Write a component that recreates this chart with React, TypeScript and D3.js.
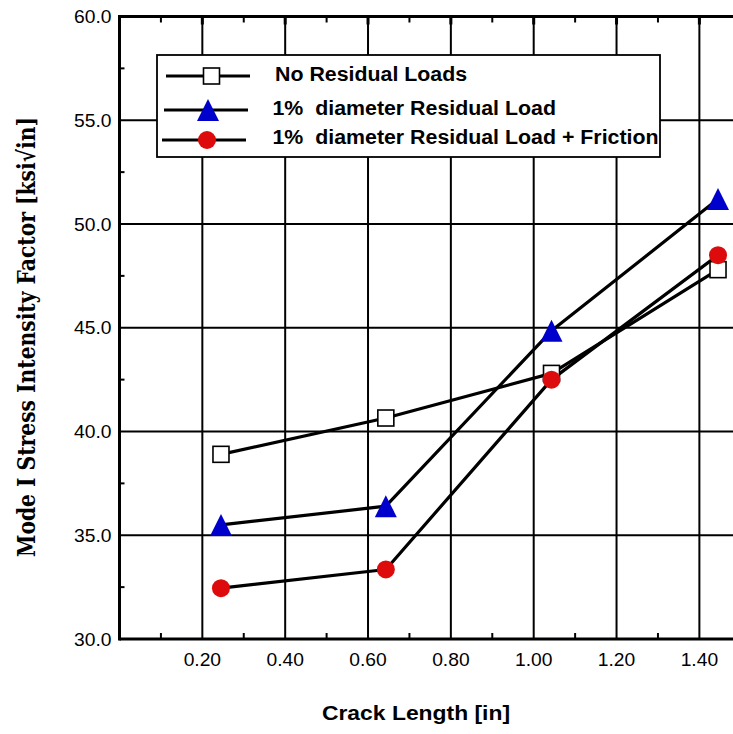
import React from "react";
import * as d3 from "d3";

const crackLength = [0.245, 0.643, 1.043, 1.445];
const noResidual = [38.9, 40.65, 42.8, 47.8];
const residual1 = [35.5, 36.4, 44.85, 51.2];
const residualFriction = [32.45, 33.35, 42.5, 48.5];
const xTickLabels = ["0.20", "0.40", "0.60", "0.80", "1.00", "1.20", "1.40"];
const xTickValues = [0.2, 0.4, 0.6, 0.8, 1.0, 1.2, 1.4];
const yTickValues = [30, 35, 40, 45, 50, 55, 60];
const legendLabels = [
  "No Residual Loads",
  "1%  diameter Residual Load",
  "1%  diameter Residual Load + Friction",
];

const W = 733;
const H = 734;

function SText(props: {
  x: number;
  y: number;
  size: number;
  sx?: number;
  anchor?: string;
  weight?: string | number;
  children: React.ReactNode;
}) {
  const { x, y, size, sx = 1.1, anchor = "start", weight = "normal", children } = props;
  return (
    <text
      transform={`translate(${x},${y}) scale(${sx},1)`}
      fontFamily="Arial, 'Liberation Sans', Helvetica, sans-serif"
      fontSize={size}
      fontWeight={weight}
      textAnchor={anchor}
      fill="#000"
      style={{ whiteSpace: "pre" }}
    >
      {children}
    </text>
  );
}

function Square({ cx, cy, s = 16 }: { cx: number; cy: number; s?: number }) {
  return (
    <rect x={cx - s / 2} y={cy - s / 2} width={s} height={s} fill="#fff" stroke="#000" strokeWidth={1.6} />
  );
}
function Tri({ cx, cy, s = 22 }: { cx: number; cy: number; s?: number }) {
  return (
    <path
      d={`M${cx},${cy - s / 2} L${cx + s / 2},${cy + s / 2} L${cx - s / 2},${cy + s / 2} Z`}
      fill="#0000CC"
    />
  );
}
function Dot({ cx, cy, r = 9 }: { cx: number; cy: number; r?: number }) {
  return <circle cx={cx} cy={cy} r={r} fill="#DD0B0B" />;
}

export default function App() {
  const x = d3.scaleLinear().domain([0, 1.5]).range([119.5, 740.8]);
  const y = d3.scaleLinear().domain([30, 60]).range([639, 16.5]);
  const line = d3
    .line<[number, number]>()
    .x((d) => x(d[0]))
    .y((d) => y(d[1]));

  const series = [noResidual, residual1, residualFriction];
  const x0 = x(0);
  const x1 = W + 5;
  const y0 = y(30);
  const y1 = y(60);

  const minorX = d3.range(1, 15, 2).map((i) => i / 10);
  const minorY = d3.range(32.5, 60, 5);

  return (
    <svg width={W} height={H} style={{ position: "absolute", left: 0, top: 0, background: "#fff" }}>
      <rect x={0} y={0} width={W} height={H} fill="#fff" />
      {/* grid */}
      {xTickValues.map((v) => (
        <line key={"gx" + v} x1={x(v)} x2={x(v)} y1={y1} y2={y0} stroke="#000" strokeWidth={2} />
      ))}
      {yTickValues.slice(1, -1).map((v) => (
        <line key={"gy" + v} x1={x0} x2={x1} y1={y(v)} y2={y(v)} stroke="#000" strokeWidth={2} />
      ))}
      {/* minor ticks */}
      {minorX.map((v) => (
        <g key={"mx" + v}>
          <line x1={x(v)} x2={x(v)} y1={y0} y2={y0 - 6} stroke="#000" strokeWidth={2} />
          <line x1={x(v)} x2={x(v)} y1={y1} y2={y1 + 6} stroke="#000" strokeWidth={2} />
        </g>
      ))}
      {minorY.map((v) => (
        <line key={"my" + v} x1={x0} x2={x0 + 5} y1={y(v)} y2={y(v)} stroke="#000" strokeWidth={2} />
      ))}
      {/* axes */}
      <line x1={x0} x2={x0} y1={y1 - 1.5} y2={y0 + 1.5} stroke="#000" strokeWidth={3} />
      <line x1={x0} x2={x1} y1={y0} y2={y0} stroke="#000" strokeWidth={3} />
      <line x1={x0} x2={x1} y1={y1} y2={y1} stroke="#000" strokeWidth={3} />
      {xTickValues.map((v) => (
        <line key={"tx" + v} x1={x(v)} x2={x(v)} y1={y1} y2={y1 + 8} stroke="#000" strokeWidth={3} />
      ))}

      {/* tick labels */}
      {yTickValues.map((v) => (
        <SText key={"yl" + v} x={111.5} y={y(v) + 6.5} size={17.5} anchor="end">
          {v.toFixed(1)}
        </SText>
      ))}
      {xTickValues.map((v, i) => (
        <SText key={"xl" + v} x={x(v)} y={666} size={17.5} anchor="middle">
          {xTickLabels[i]}
        </SText>
      ))}

      {/* axis titles */}
      <SText x={416} y={720} size={21} sx={1.09} anchor="middle" weight="bold">
        Crack Length [in]
      </SText>
      <text
        transform={`translate(35,337) rotate(-90)`}
        fontFamily="'DejaVu Serif', serif"
        fontWeight="bold"
        fontSize={24}
        textAnchor="middle"
        textLength={440}
        lengthAdjust="spacingAndGlyphs"
        fill="#000"
      >
        Mode I Stress Intensity Factor [ksi√in]
      </text>

      {/* data lines */}
      {series.map((s, k) => (
        <path
          key={"l" + k}
          d={line(crackLength.map((c, i) => [c, s[i]] as [number, number])) || ""}
          fill="none"
          stroke="#000"
          strokeWidth={3.2}
          strokeLinejoin="round"
        />
      ))}
      {crackLength.map((c, i) => (
        <g key={"m" + i}>
          <Square cx={x(c)} cy={y(noResidual[i])} />
          <Tri cx={x(c)} cy={y(residual1[i])} />
          <Dot cx={x(c)} cy={y(residualFriction[i])} />
        </g>
      ))}

      {/* legend */}
      <rect x={157} y={55} width={503} height={102} fill="#fff" stroke="#000" strokeWidth={1.8} />
      <line x1={166} x2={250} y1={76} y2={76} stroke="#000" strokeWidth={3.2} />
      <Square cx={211.5} cy={76} />
      <line x1={164} x2={248} y1={110} y2={110} stroke="#000" strokeWidth={3.2} />
      <Tri cx={208} cy={110} />
      <line x1={162} x2={246} y1={140} y2={140} stroke="#000" strokeWidth={3.2} />
      <Dot cx={207} cy={140} />
      <SText x={275} y={81} size={19.5} sx={1.095} weight="bold">
        {legendLabels[0]}
      </SText>
      <SText x={272.5} y={115} size={19.5} sx={1.095} weight="bold">
        {legendLabels[1]}
      </SText>
      <SText x={272.5} y={144} size={19.5} sx={1.095} weight="bold">
        {legendLabels[2]}
      </SText>
    </svg>
  );
}
